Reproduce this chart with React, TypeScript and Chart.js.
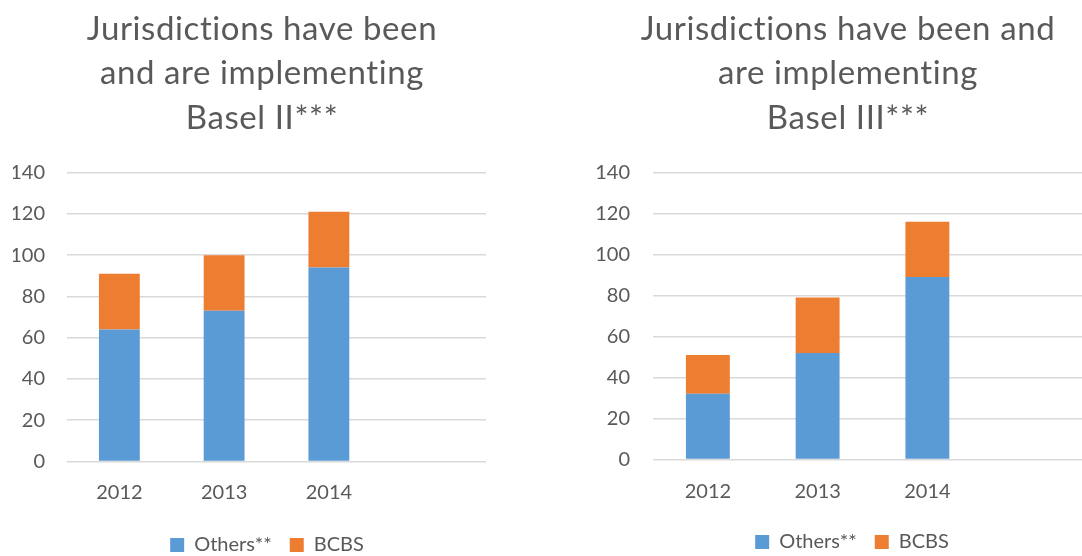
import React, { useEffect, useRef } from "react";
import { Chart, registerables } from "chart.js";

Chart.register(...registerables);

const categories = ["2012", "2013", "2014", ""];
const seriesNames = ["Others**", "BCBS"];
const basel2Others = [64, 73, 94];
const basel2Bcbs = [27, 27, 27];
const basel3Others = [32, 52, 89];
const basel3Bcbs = [19, 27, 27];
const yTicks = [0, 20, 40, 60, 80, 100, 120, 140];
const title2 = ["Jurisdictions have been", "and are implementing", "Basel II***"];
const title3 = ["Jurisdictions have been and", "are implementing", "Basel III***"];

const BLUE = "#5B9BD5";
const ORANGE = "#ED7D31";
const TEXT = "#595959";
const GRID = "#D9D9D9";
const FONT = "Lato, 'Open Sans', sans-serif";

type PanelProps = {
  title: string[];
  others: number[];
  bcbs: number[];
  left: number;
  width: number;
  height: number;
  padL: number;
  padR: number;
  yWidth: number;
  yPad: number;
  xHeight: number;
  xPad: number;
  barPct: number;
  titleLR: [number, number];
  legendLR: [number, number];
};

function Panel(p: PanelProps) {
  const ref = useRef<HTMLCanvasElement | null>(null);
  useEffect(() => {
    if (!ref.current) return;
    const placePlugin = {
      id: "placeBoxes",
      afterLayout(chart: any) {
        const tb = chart.titleBlock;
        if (tb) {
          tb.left = p.titleLR[0];
          tb.right = p.titleLR[1];
          if (!tb.__wrapped) {
            const orig = tb.draw.bind(tb);
            tb.draw = (area: any) => {
              const ctx = chart.ctx;
              ctx.save();
              (ctx as any).letterSpacing = "0.6px";
              orig(area);
              ctx.restore();
            };
            tb.__wrapped = true;
          }
        }
        const lg = chart.legend;
        if (lg) {
          lg.left = p.legendLR[0];
          lg.right = p.legendLR[1];
        }
      },
    };
    const chart = new Chart(ref.current, {
      type: "bar",
      data: {
        labels: categories,
        datasets: [
          {
            label: seriesNames[0],
            data: p.others,
            backgroundColor: BLUE,
            borderWidth: 0,
            categoryPercentage: 1,
            barPercentage: p.barPct,
          },
          {
            label: seriesNames[1],
            data: p.bcbs,
            backgroundColor: ORANGE,
            borderWidth: 0,
            categoryPercentage: 1,
            barPercentage: p.barPct,
          },
        ],
      },
      plugins: [placePlugin],
      options: {
        responsive: false,
        animation: false,
        layout: { padding: { left: p.padL, right: p.padR, top: 0, bottom: 0 } },
        plugins: {
          tooltip: { enabled: false },
          title: {
            display: true,
            text: p.title,
            color: TEXT,
            font: { family: FONT, size: 33, weight: "normal", lineHeight: 1.35 },
            padding: { top: 7, bottom: 32 },
          },
          legend: {
            display: true,
            position: "bottom",
            labels: {
              color: TEXT,
              font: { family: FONT, size: 20 },
              boxWidth: 14,
              boxHeight: 14,
              padding: 18,
            },
          },
        },
        scales: {
          x: {
            stacked: true,
            grid: { display: false, drawTicks: false },
            border: { display: false },
            ticks: { color: TEXT, font: { family: FONT, size: 20 }, padding: p.xPad, maxRotation: 0 },
            afterFit: (scale: any) => {
              scale.height = p.xHeight;
            },
          },
          y: {
            stacked: true,
            min: 0,
            max: 140,
            afterBuildTicks: (scale: any) => {
              scale.ticks = yTicks.map((v) => ({ value: v }));
            },
            afterFit: (scale: any) => {
              scale.width = p.yWidth;
            },
            grid: { color: GRID, lineWidth: 1.5, drawTicks: false },
            border: { display: false },
            ticks: { color: TEXT, font: { family: FONT, size: 20 }, padding: p.yPad },
          },
        },
      },
    });
    return () => chart.destroy();
  }, []);
  return (
    <canvas
      ref={ref}
      width={p.width}
      height={p.height}
      style={{ position: "absolute", left: p.left, top: 0, width: p.width, height: p.height }}
    />
  );
}

export default function App() {
  return (
    <div
      style={{
        position: "fixed",
        left: 0,
        top: 0,
        width: 1082,
        height: 556,
        overflow: "hidden",
        background: "#fff",
      }}
    >
      <Panel
        title={title2}
        others={basel2Others}
        bcbs={basel2Bcbs}
        left={0}
        width={530}
        height={565}
        padL={13}
        padR={44}
        yWidth={54}
        yPad={22}
        xHeight={55.6}
        xPad={19.5}
        barPct={0.39}
        titleLR={[38, 486]}
        legendLR={[48, 486]}
      />
      <Panel
        title={title3}
        others={basel3Others}
        bcbs={basel3Bcbs}
        left={590}
        width={510}
        height={562}
        padL={4}
        padR={8}
        yWidth={59}
        yPad={23}
        xHeight={54.6}
        xPad={20}
        barPct={0.4}
        titleLR={[14, 502]}
        legendLR={[22, 502]}
      />
    </div>
  );
}
